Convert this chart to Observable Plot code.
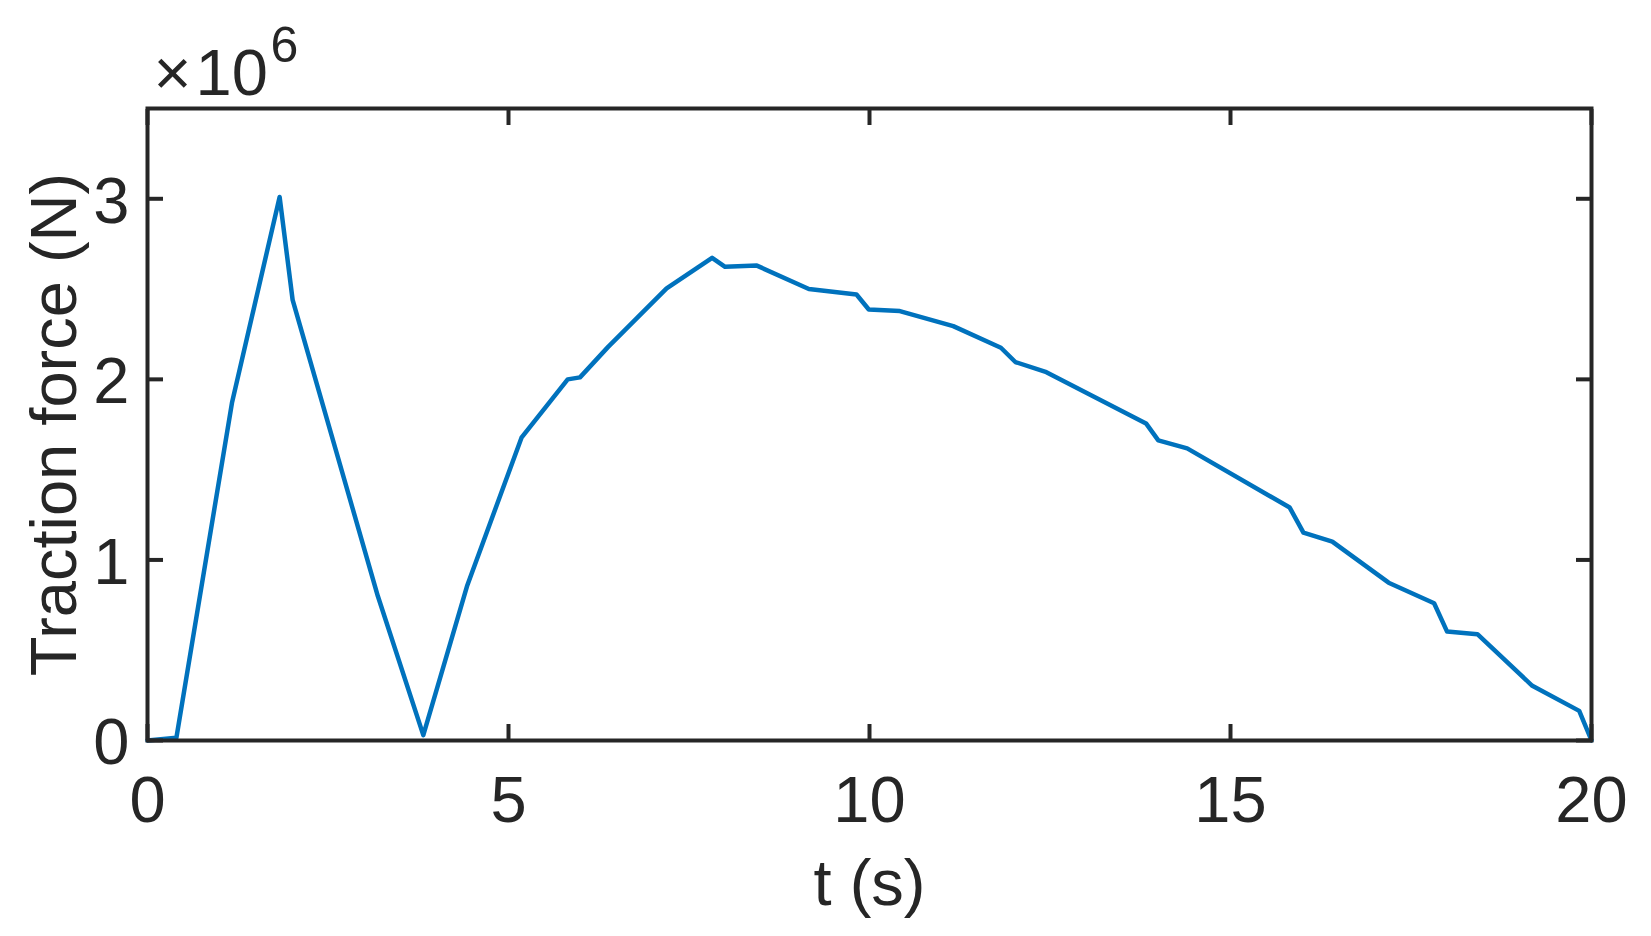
<!DOCTYPE html>
<html>
<head>
<meta charset="utf-8">
<script src="https://cdn.jsdelivr.net/npm/d3@7"></script>
<script src="https://cdn.jsdelivr.net/npm/@observablehq/plot@0.6"></script>
<style>
  html, body { margin: 0; padding: 0; background: #fff; }
</style>
</head>
<body>
<div id="chart"></div>
<script>
// Time (s)
const time = [0, 0.4, 1.17, 1.83, 2.01, 3.19, 3.82, 4.43, 5.18, 5.82, 5.99, 6.38, 7.19, 7.82, 8.0, 8.44, 9.16, 9.82, 9.99, 10.42, 11.16, 11.82, 12.02, 12.45, 13.83, 14.0, 14.4, 15.82, 16.01, 16.41, 17.19, 17.82, 18.0, 18.42, 19.18, 19.83, 20.0];
// Traction force (N)
const force = [0, 0.015e6, 1.87e6, 3.01e6, 2.44e6, 0.80e6, 0.03e6, 0.86e6, 1.677e6, 2.0e6, 2.011e6, 2.18e6, 2.504e6, 2.673e6, 2.623e6, 2.63e6, 2.50e6, 2.47e6, 2.387e6, 2.378e6, 2.295e6, 2.175e6, 2.096e6, 2.04e6, 1.756e6, 1.662e6, 1.618e6, 1.29e6, 1.151e6, 1.101e6, 0.874e6, 0.76e6, 0.603e6, 0.589e6, 0.303e6, 0.164e6, 0];
const xTicks = [0, 5, 10, 15, 20];
const yTicks = [0, 1e6, 2e6, 3e6];
const xLabel = "t (s)";
const yLabel = "Traction force (N)";
const expBase = "×";
const expTen = "10";
const expPower = "6";

const data = time.map((t, i) => ({t, f: force[i]}));
const ink = "#262626";

const chart = Plot.plot({
  width: 1651,
  height: 936,
  marginLeft: 147,
  marginRight: 60,
  marginTop: 108,
  marginBottom: 196,
  style: {fontFamily: "'Liberation Sans', Arial, sans-serif", fontSize: "65px", color: ink, background: "#fff"},
  x: {domain: [0, 20]},
  y: {domain: [0, 3.5e6]},
  marks: [
    Plot.line(data, {x: "t", y: "f", stroke: "#0072BD", strokeWidth: 4.5}),
    Plot.frame({stroke: ink, strokeWidth: 4}),
    Plot.axisX({anchor: "bottom", ticks: xTicks, tickSize: -16, strokeWidth: 4, stroke: ink, tickFormat: () => "", label: null}),
    Plot.axisX({anchor: "top", ticks: xTicks, tickSize: -16, strokeWidth: 4, stroke: ink, tickFormat: () => "", label: null}),
    Plot.axisY({anchor: "left", ticks: yTicks, tickSize: -16, strokeWidth: 4, stroke: ink, tickFormat: () => "", label: null}),
    Plot.axisY({anchor: "right", ticks: yTicks, tickSize: -16, strokeWidth: 4, stroke: ink, tickFormat: () => "", label: null}),
    Plot.axisX({anchor: "bottom", ticks: xTicks, tickSize: 0, tickPadding: 35, fill: ink, label: null}),
    Plot.axisY({anchor: "left", ticks: yTicks, tickSize: 0, tickPadding: 18, dy: 3, fill: ink, tickFormat: d => String(d / 1e6), label: null}),
    Plot.text([xLabel], {text: d => d, frameAnchor: "bottom", textAnchor: "middle", lineAnchor: "bottom", dy: 164, fill: ink}),
    Plot.text([yLabel], {text: d => d, frameAnchor: "left", textAnchor: "middle", lineAnchor: "bottom", rotate: -90, dx: -72, fill: ink}),
    Plot.text([expBase], {text: d => d, frameAnchor: "top-left", textAnchor: "start", lineAnchor: "bottom", dx: 6, dy: -14, fill: ink}),
    Plot.text([expTen], {text: d => d, frameAnchor: "top-left", textAnchor: "start", lineAnchor: "bottom", dx: 48, dy: -14, fill: ink}),
    Plot.text([expPower], {text: d => d, frameAnchor: "top-left", textAnchor: "start", lineAnchor: "bottom", dx: 123, dy: -47, fontSize: 50, fill: ink})
  ]
});
document.getElementById("chart").appendChild(chart);
</script>
</body>
</html>
